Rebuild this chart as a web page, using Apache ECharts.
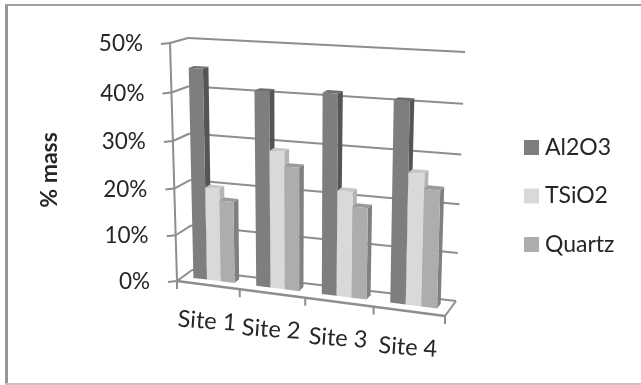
<!DOCTYPE html>
<html>
<head>
<meta charset="utf-8">
<style>html,body{margin:0;padding:0;background:#fff}#chart{width:641px;height:385px}</style>
<script src="https://cdn.jsdelivr.net/npm/echarts@6/dist/echarts.min.js"></script>
</head>
<body>
<div id="chart"></div>
<script>
// Composition of particulate samples per site
const sites = ['Site 1', 'Site 2', 'Site 3', 'Site 4'];
const al2o3 = [44.7, 41, 41.5, 41];
const tsio2 = [20, 29, 22, 27];
const quartz = [17.5, 26, 19, 24];
const percentTicks = [0, 10, 20, 30, 40, 50];
const percentLabels = ['0%', '10%', '20%', '30%', '40%', '50%'];

const FONT = 'Lato, "Open Sans", sans-serif';
const INK = '#262626';
const FRAME = '#8e8e8e';

// The hidden cartesian grid supplies the scales; its pixels are then projected into the box.
const G = { left: 100, top: 50, width: 400, height: 250 };

// Corners of the box as [x, y] on screen: front/back, bottom/top, left/right.
const BOX = {
  fbl: [177, 281], fbr: [445, 316], ftl: [170, 43], ftr: [451, 60],
  bbl: [192, 270], bbr: [456, 301], btl: [188, 38], btr: [465, 52]
};
const U_BEND = 1.09;
const V_BEND = 1.05;

const mix = (a, b, t) => [a[0] + (b[0] - a[0]) * t, a[1] + (b[1] - a[1]) * t];

function project(px, py, depth) {
  let u = (px - G.left) / G.width;
  let v = (G.top + G.height - py) / G.height;
  u = u / (U_BEND - (U_BEND - 1) * u);
  v = v / (V_BEND - (V_BEND - 1) * v);
  const front = mix(mix(BOX.fbl, BOX.fbr, u), mix(BOX.ftl, BOX.ftr, u), v);
  const back = mix(mix(BOX.bbl, BOX.bbr, u), mix(BOX.btl, BOX.btr, u), v);
  return mix(front, back, depth);
}

const line = (a, b, width, color) => ({
  type: 'line',
  shape: { x1: a[0], y1: a[1], x2: b[0], y2: b[1] },
  style: { stroke: color || FRAME, lineWidth: width || 2 }
});

// Walls, floor, ticks and tick labels
function renderFrame(params, api) {
  const kids = [];
  const x0 = G.left;
  const x1 = G.left + G.width;
  const band = api.size([1, 0])[0];
  const floorY = api.coord([0, 0])[1];

  percentTicks.forEach((tick, i) => {
    const y = api.coord([0, tick])[1];
    const f = project(x0, y, 0);
    const b = project(x0, y, 1);
    const r = project(x1, y, 1);
    kids.push(line([f[0] - 9, f[1] + 1], f), line(f, b), line(b, r));
    kids.push({
      type: 'text',
      style: {
        text: percentLabels[i], x: f[0] - 27, y: f[1] + 1,
        font: '22.5px ' + FONT, fill: INK, align: 'right', verticalAlign: 'middle'
      }
    });
  });

  const top = api.coord([0, 50])[1];
  kids.push(line(project(x0, top, 0), project(x0, floorY, 0)));
  kids.push(line(project(x0, floorY, 0), project(x1, floorY, 0), 2.4));
  kids.push(line(project(x1, floorY, 0), project(x1, floorY, 1)));

  sites.forEach((name, i) => {
    const cx = api.coord([i, 0])[0];
    const edge = project(cx - band / 2, floorY, 0);
    kids.push(line(edge, [edge[0], edge[1] + 8]));
    const mid = project(cx, floorY, 0);
    kids.push({
      type: 'text',
      rotation: -0.07,
      x: mid[0] - 1,
      y: mid[1] + 36,
      style: {
        text: name, x: 0, y: 0,
        font: '23.5px ' + FONT, fill: INK, align: 'center', verticalAlign: 'middle'
      }
    });
  });
  const last = project(x1, floorY, 0);
  kids.push(line(last, [last[0], last[1] + 8]));

  return { type: 'group', children: kids };
}

const SHADES = [
  { front: '#7e7e7e', side: '#555555', top: '#6e6e6e' },
  { front: '#d9d9d9', side: '#b4b4b4', top: '#c8c8c8' },
  { front: '#adadad', side: '#808080', top: '#9a9a9a' }
];
const CLUSTER = 0.66;
const NEAR = 0.4;
const FAR = 0.72;

// One box per data point, shifted within its category band by series index
function barRenderer(seriesIndex) {
  return function (params, api) {
    const band = api.size([1, 0])[0];
    const cx = api.coord([api.value(0), 0])[0];
    const baseY = api.coord([0, 0])[1];
    const topY = api.coord([0, api.value(1)])[1];
    const w = band * CLUSTER / 3;
    const l = cx - band * CLUSTER / 2 + w * seriesIndex;
    const r = l + w;
    const shade = SHADES[seriesIndex];
    const poly = (pts, fill) => ({ type: 'polygon', shape: { points: pts }, style: { fill } });
    return {
      type: 'group',
      children: [
        poly([project(r, baseY, NEAR), project(r, baseY, FAR), project(r, topY, FAR), project(r, topY, NEAR)], shade.side),
        poly([project(l, topY, NEAR), project(r, topY, NEAR), project(r, topY, FAR), project(l, topY, FAR)], shade.top),
        poly([project(l, baseY, NEAR), project(r, baseY, NEAR), project(r, topY, NEAR), project(l, topY, NEAR)], shade.front)
      ]
    };
  };
}

const barSeries = (name, values, index) => ({
  type: 'custom',
  name,
  renderItem: barRenderer(index),
  clip: false,
  itemStyle: { color: SHADES[index].front },
  encode: { x: 0, y: 1 },
  data: values.map((v, i) => [i, v])
});

const chart = echarts.init(document.getElementById('chart'), null, { renderer: 'canvas' });
chart.setOption({
  animation: false,
  backgroundColor: '#ffffff',
  grid: G,
  xAxis: { type: 'category', data: sites, show: false },
  yAxis: { type: 'value', min: 0, max: 50, interval: 10, show: false },
  legend: {
    orient: 'vertical', left: 519, top: 131, icon: 'rect',
    itemWidth: 15, itemHeight: 15, itemGap: 25.5, selectedMode: false,
    data: ['Al2O3', 'TSiO2', 'Quartz'],
    textStyle: { fontFamily: FONT, fontSize: 23, color: INK, padding: [0, 0, 0, 1] }
  },
  graphic: [
    { type: 'line', shape: { x1: 6.5, y1: 4, x2: 6.5, y2: 385 }, style: { stroke: '#969696', lineWidth: 3 }, silent: true },
    { type: 'line', shape: { x1: 5, y1: 5, x2: 641, y2: 5 }, style: { stroke: '#a0a0a0', lineWidth: 2 }, silent: true },
    { type: 'line', shape: { x1: 5, y1: 384, x2: 641, y2: 384 }, style: { stroke: '#c4c4c4', lineWidth: 2 }, silent: true },
    {
      type: 'text', x: 50, y: 170, rotation: Math.PI / 2, silent: true,
      style: { text: '% mass', font: 'bold 23px ' + FONT, fill: INK, align: 'center', verticalAlign: 'middle' }
    }
  ],
  series: [
    { type: 'custom', name: 'frame', silent: true, clip: false, renderItem: renderFrame, encode: { x: 0, y: 1 }, data: [[0, 0]], z: 1 },
    barSeries('Al2O3', al2o3, 0),
    barSeries('TSiO2', tsio2, 1),
    barSeries('Quartz', quartz, 2)
  ]
});
</script>
</body>
</html>
